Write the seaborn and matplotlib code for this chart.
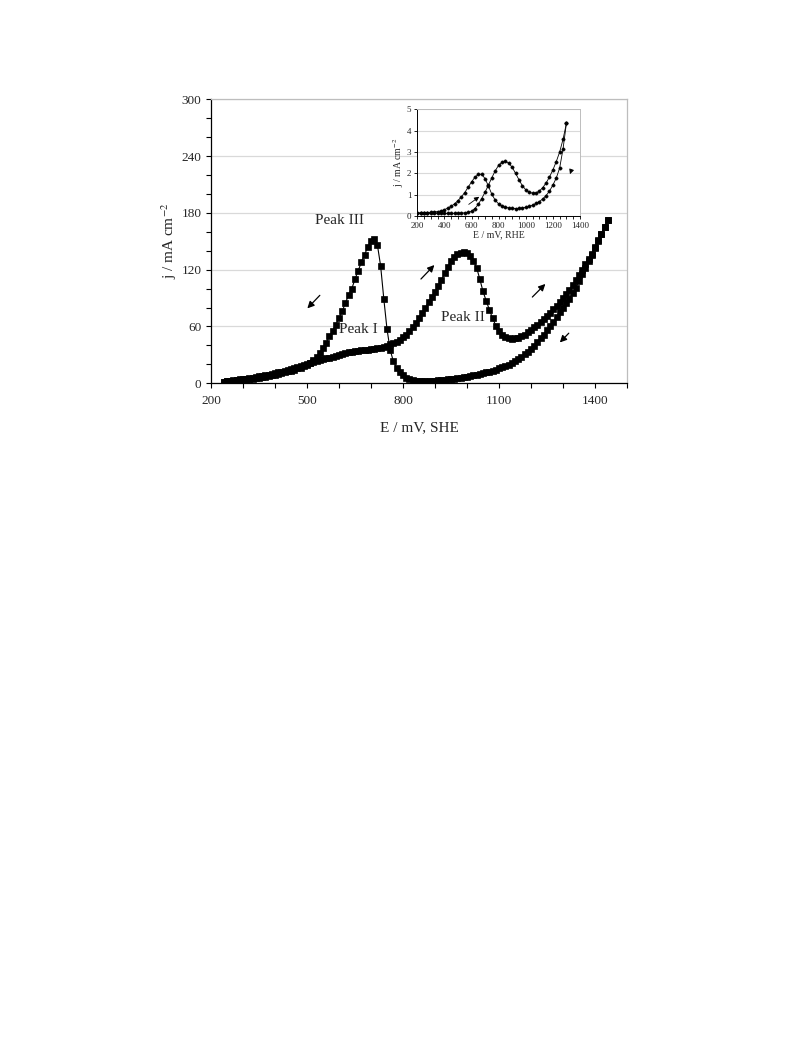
import numpy as np
import pandas as pd
import matplotlib
matplotlib.use("Agg")
import matplotlib.pyplot as plt
from matplotlib.ticker import MultipleLocator, FixedLocator
import seaborn as sns

# main voltammogram, E / mV (SHE), j / mA cm-2
e_fwd = list(range(240, 1450, 10))
j_fwd = [1.8, 2.0, 2.5, 3.0, 3.5, 4.0, 4.6, 5.0, 5.5, 6.0, 6.6, 7.2, 7.8, 8.5, 9.2, 9.9,
         10.6, 11.4, 12.3, 13.2, 14.2, 15.2, 16.2, 17.2, 18.2, 19.2, 20.2, 21.3, 22.3, 23.3,
         24.3, 25.3, 26.3, 27.2, 28.2, 29.2, 30.3, 31.4, 32.2, 32.9, 33.5, 34.0, 34.4, 34.8,
         35.2, 35.6, 36.0, 36.4, 37.0, 37.7, 38.5, 39.5, 41.0, 42.5, 44.0, 46.0, 48.5, 51.5,
         55.0, 59.0, 63.5, 68.5, 74.0, 80.0, 86.0, 91.0, 96.5, 102.5, 109.0, 116.0, 123.0,
         129.0, 133.5, 136.5, 138.0, 138.5, 137.5, 134.5, 129.5, 122.0, 110.0, 97.0, 87.0,
         77.5, 68.5, 61.0, 55.0, 51.0, 48.8, 47.6, 47.2, 47.3, 48.0, 49.5, 51.5, 54.0, 56.5,
         59.0, 62.0, 65.0, 68.0, 71.0, 74.5, 78.0, 82.0, 86.0, 90.0, 94.5, 99.0, 104.0,
         109.0, 114.5, 120.0, 125.5, 131.0, 137.0, 143.5, 150.5, 158.0, 165.0, 172.0]

e_rev = list(range(1440, 230, -10))
j_rev = [172.0, 165.0, 158.0, 151.0, 143.0, 136.0, 129.0, 122.0, 115.0, 108.0, 101.0, 95.0,
         89.5, 84.5, 79.5, 75.0, 70.0, 65.0, 60.5, 56.0, 51.5, 47.5, 43.5, 39.5, 36.0, 33.0,
         30.5, 28.0, 25.5, 23.2, 21.2, 19.4, 18.0, 16.7, 15.6, 14.5, 13.4, 12.4, 11.5, 10.7,
         9.9, 9.2, 8.5, 7.8, 7.1, 6.5, 6.0, 5.5, 5.0, 4.6, 4.2, 3.8, 3.4, 3.0, 2.6, 2.2, 2.1,
         2.1, 2.2, 2.5, 2.9, 3.5, 4.5, 6.0, 8.3, 12.0, 16.5, 23.0, 35.0, 57.0, 89.0, 124.0,
         146.0, 152.0, 150.0, 144.0, 136.0, 128.0, 119.0, 110.0, 100.0, 93.0, 85.0, 76.0, 69.0,
         62.0, 55.5, 49.5, 43.0, 37.0, 32.0, 28.0, 24.5, 21.5, 19.5, 17.8, 16.6, 15.6, 14.4,
         13.4, 12.5, 11.5, 10.6, 9.8, 9.0, 8.3, 7.6, 6.9, 6.3, 5.8, 5.2, 4.8, 4.4, 4.0, 3.6,
         3.3, 3.0, 2.7, 2.3, 1.9, 1.5]

# inset, E / mV (RHE), j / mA cm-2
e_ins = list(range(200, 1325, 25))
j_ins_a = [0.15, 0.15, 0.15, 0.16, 0.17, 0.19, 0.21, 0.24, 0.30, 0.37, 0.46, 0.57, 0.72,
           0.90, 1.10, 1.35, 1.60, 1.82, 1.95, 1.96, 1.75, 1.40, 1.02, 0.74, 0.57, 0.47,
           0.41, 0.38, 0.36, 0.35, 0.36, 0.38, 0.41, 0.45, 0.51, 0.59, 0.68, 0.80, 0.96,
           1.17, 1.45, 1.78, 2.25, 3.15, 4.35]
j_ins_b = [0.12, 0.12, 0.12, 0.12, 0.12, 0.12, 0.12, 0.12, 0.12, 0.12, 0.12, 0.13, 0.13,
           0.14, 0.15, 0.17, 0.22, 0.35, 0.55, 0.82, 1.12, 1.45, 1.80, 2.12, 2.38, 2.52,
           2.56, 2.48, 2.28, 2.00, 1.70, 1.42, 1.23, 1.12, 1.07, 1.08, 1.17, 1.33, 1.55,
           1.83, 2.16, 2.55, 3.00, 3.60, 4.35]

main_xticks = [200, 500, 800, 1100, 1400]

main_df = pd.concat([
    pd.DataFrame({"E": e_fwd, "j": j_fwd, "scan": "anodic"}),
    pd.DataFrame({"E": e_rev, "j": j_rev, "scan": "cathodic"}),
], ignore_index=True)
ins_df = pd.concat([
    pd.DataFrame({"E": e_ins, "j": j_ins_a, "scan": "a"}),
    pd.DataFrame({"E": e_ins, "j": j_ins_b, "scan": "b"}),
], ignore_index=True)

sns.set_style("white")
plt.rcParams["font.family"] = ["Liberation Serif", "DejaVu Serif"]
plt.rcParams["mathtext.fontset"] = "stix"

fig = plt.figure(figsize=(7.93, 10.57), dpi=100)
ax = fig.add_axes([0.2661, 0.6374, 0.5246, 0.2687])

for scan, sub in main_df.groupby("scan", sort=False):
    sns.lineplot(data=sub, x="E", y="j", sort=False, estimator=None, ax=ax,
                 color="black", lw=0.8, marker="s", markersize=4.0,
                 markeredgecolor="black", markeredgewidth=0.5, legend=False)

ax.set_xlim(200, 1500)
ax.set_ylim(0, 300)
ax.xaxis.set_major_locator(FixedLocator(main_xticks))
ax.xaxis.set_minor_locator(MultipleLocator(100))
ax.yaxis.set_major_locator(MultipleLocator(60))
ax.yaxis.set_minor_locator(MultipleLocator(20))
ax.tick_params(which="both", direction="out", length=3.5, width=0.8, color="black",
               labelsize=9.5, bottom=True, left=True)
ax.tick_params(axis="x", pad=5)
ax.grid(axis="y", which="major", color="#d9d9d9", lw=0.9)
ax.set_axisbelow(True)
for s in ["left", "bottom"]:
    ax.spines[s].set_color("black")
    ax.spines[s].set_linewidth(0.9)
for s in ["right", "top"]:
    ax.spines[s].set_color("#bdbdbd")
    ax.spines[s].set_linewidth(0.9)
ax.set_xlabel("E / mV, SHE", fontsize=11, labelpad=10)
ax.set_ylabel("j / mA cm$^{-2}$", fontsize=11, labelpad=2)

ax.text(602, 172, "Peak III", fontsize=11, ha="center", va="center")
ax.text(659, 57, "Peak I", fontsize=11, ha="center", va="center")
ax.text(988, 69, "Peak II", fontsize=11, ha="center", va="center")

arrow_kw = dict(arrowstyle="-|>", color="black", lw=0.9, mutation_scale=10)
for (x0, y0), (x1, y1) in [((546, 95), (495, 77)), ((850, 108), (904, 127)),
                           ((1198, 89), (1251, 107)), ((1324, 55), (1284, 41))]:
    ax.annotate("", xy=(x1, y1), xytext=(x0, y0), arrowprops=arrow_kw)

# inset
axi = fig.add_axes([0.5262, 0.7956, 0.2052, 0.1010])
axi.set_facecolor("white")
for scan, sub in ins_df.groupby("scan", sort=False):
    sns.lineplot(data=sub, x="E", y="j", sort=False, estimator=None, ax=axi,
                 color="black", lw=0.6, marker="o", markersize=2.4,
                 markeredgecolor="black", markeredgewidth=0.3, legend=False)
axi.set_xlim(200, 1400)
axi.set_ylim(0, 5)
axi.xaxis.set_major_locator(MultipleLocator(200))
axi.xaxis.set_minor_locator(MultipleLocator(50))
axi.yaxis.set_major_locator(MultipleLocator(1))
axi.tick_params(which="both", direction="out", length=2.2, width=0.6, color="black",
                labelsize=6.5, pad=2, bottom=True, left=True)
axi.grid(axis="y", which="major", color="#d9d9d9", lw=0.8)
axi.set_axisbelow(True)
for s in ["left", "bottom"]:
    axi.spines[s].set_color("black")
    axi.spines[s].set_linewidth(0.7)
for s in ["right", "top"]:
    axi.spines[s].set_color("#bdbdbd")
    axi.spines[s].set_linewidth(0.7)
axi.set_xlabel("E / mV, RHE", fontsize=7, labelpad=0)
axi.set_ylabel("j / mA cm$^{-2}$", fontsize=7, labelpad=1)

arrow_ki = dict(arrowstyle="-|>", color="black", lw=0.6, mutation_scale=7)
axi.annotate("", xy=(673, 0.98), xytext=(563, 0.47), arrowprops=arrow_ki)
axi.annotate("", xy=(1319, 1.84), xytext=(1341, 2.23), arrowprops=arrow_ki)

fig.savefig("out.png", dpi=100)
